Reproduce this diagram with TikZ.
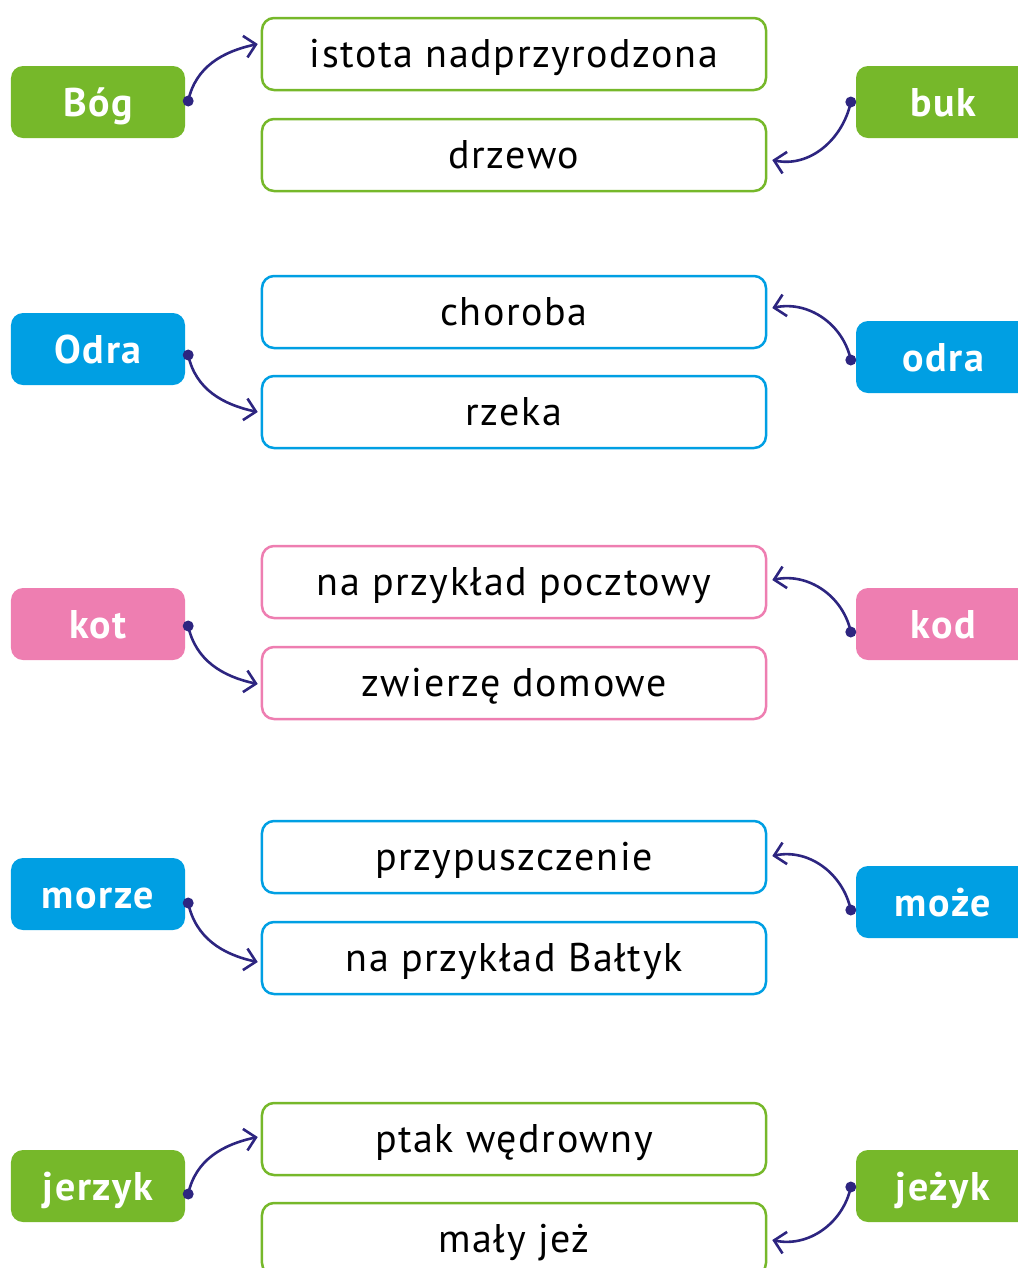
\documentclass[tikz,border=0pt]{standalone}
\usepackage{fontspec}
\setmainfont{PT Sans}[LetterSpace=4]
\usetikzlibrary{arrows.meta,calc}
\definecolor{cgreen}{HTML}{76B82A}
\definecolor{cblue}{HTML}{009FE3}
\definecolor{cpink}{HTML}{EE7EB1}
\definecolor{clink}{HTML}{2D2580}
\tikzset{
  word/.style={fill=#1, rounded corners=12bp, minimum width=174bp, minimum height=72bp, inner sep=0pt,
    text height=28bp, text depth=0pt,
    text=white, font=\fontsize{40bp}{44bp}\selectfont\bfseries},
  meaning/.style={draw=#1, line width=2.5bp, fill=white, rounded corners=12bp, minimum width=504bp, minimum height=72bp, inner sep=0pt,
    text height=26bp, text depth=0pt,
    text=black, font=\fontsize{40bp}{44bp}\selectfont},
  link/.style={draw=clink, line width=2.6bp, -{Straight Barb[length=11bp,width=22bp,line width=2.6bp]}},
  linkdot/.style={fill=clink, circle, inner sep=0pt, minimum size=11bp}
}
\begin{document}
\begin{tikzpicture}[x=1bp,y=1bp]
\useasboundingbox (0,0) rectangle (1018,-1268);
\clip (0,0) rectangle (1018,-1268);
% group 1
\node[word=cgreen] (bog) at (98,-102) {Bóg};
\node[word=cgreen] (buk) at (943,-102) {buk};
\node[meaning=cgreen] (istota) at (514,-54) {istota nadprzyrodzona};
\node[meaning=cgreen] (drzewo) at (514,-155) {drzewo};
% group 2
\node[word=cblue] (Odra) at (98,-349) {Odra};
\node[word=cblue] (odra) at (943,-357) {odra};
\node[meaning=cblue] (choroba) at (514,-312) {choroba};
\node[meaning=cblue] (rzeka) at (514,-412) {rzeka};
% group 3
\node[word=cpink] (kot) at (98,-624) {kot};
\node[word=cpink] (kod) at (943,-624) {kod};
\node[meaning=cpink] (pocztowy) at (514,-582) {na przykład pocztowy};
\node[meaning=cpink] (zwierze) at (514,-683) {zwierzę domowe};
% group 4
\node[word=cblue] (morze) at (98,-894) {morze};
\node[word=cblue] (moze) at (943,-902) {może};
\node[meaning=cblue] (przyp) at (514,-857) {przypuszczenie};
\node[meaning=cblue] (baltyk) at (514,-958) {na przykład Bałtyk};
% group 5
\node[word=cgreen] (jerzyk) at (98,-1186) {jerzyk};
\node[word=cgreen] (jezyk) at (943,-1186) {jeżyk};
\node[meaning=cgreen] (ptak) at (514,-1139) {ptak wędrowny};
\node[meaning=cgreen] (jez) at (514,-1239) {mały jeż};
% connector points
\coordinate (s1) at ($(bog.east)+(3,1)$);
\coordinate (e1) at ($(istota.west)+(-3,10)$);
\coordinate (s2) at ($(buk.west)+(-5,0)$);
\coordinate (e2) at ($(drzewo.east)+(5,-5)$);
\coordinate (s3) at ($(Odra.east)+(3,-6)$);
\coordinate (e3) at ($(rzeka.west)+(-3,0)$);
\coordinate (s4) at ($(odra.west)+(-5,-3)$);
\coordinate (e4) at ($(choroba.east)+(5,4)$);
\coordinate (s5) at ($(kot.east)+(3,-2)$);
\coordinate (e5) at ($(zwierze.west)+(-3,-1)$);
\coordinate (s6) at ($(kod.west)+(-5,-8)$);
\coordinate (e6) at ($(pocztowy.east)+(5,2)$);
\coordinate (s7) at ($(morze.east)+(3,-9)$);
\coordinate (e7) at ($(baltyk.west)+(-3,-4)$);
\coordinate (s8) at ($(moze.west)+(-5,-8)$);
\coordinate (e8) at ($(przyp.east)+(5,1)$);
\coordinate (s9) at ($(jerzyk.east)+(3,-8)$);
\coordinate (e9) at ($(ptak.west)+(-3,2)$);
\coordinate (s10) at ($(jezyk.west)+(-5,-1)$);
\coordinate (e10) at ($(jez.east)+(5,-1)$);
% left-hand connectors
\draw[link] (s1) to[out=78,in=192] (e1);
\draw[link] (s3) to[out=-78,in=168] (e3);
\draw[link] (s5) to[out=-78,in=168] (e5);
\draw[link] (s7) to[out=-78,in=168] (e7);
\draw[link] (s9) to[out=78,in=192] (e9);
% right-hand connectors
\draw[link] (s2) to[out=-102,in=-12] (e2);
\draw[link] (s4) to[out=102,in=12] (e4);
\draw[link] (s6) to[out=102,in=12] (e6);
\draw[link] (s8) to[out=102,in=12] (e8);
\draw[link] (s10) to[out=-102,in=-12] (e10);
% dots
\foreach \p in {s1,s2,s3,s4,s5,s6,s7,s8,s9,s10} \node[linkdot] at (\p) {};
\end{tikzpicture}
\end{document}
